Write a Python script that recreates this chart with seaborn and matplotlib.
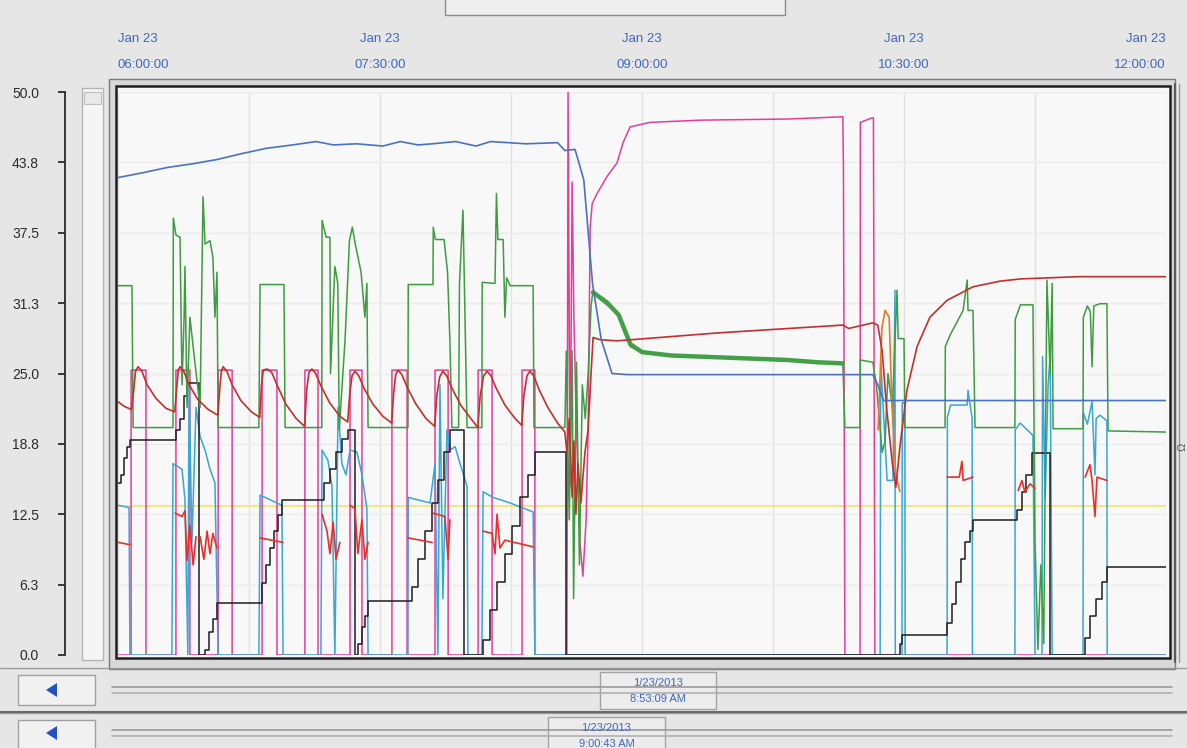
import numpy as np
import pandas as pd
import seaborn as sns
import matplotlib.pyplot as plt
from matplotlib.patches import Rectangle, Polygon

W, H = 1187, 748

# time axis: minutes after 06:00 on Jan 23
tick_times = [0, 90, 180, 270, 360]
tick_labels = ["Jan 23\n06:00:00", "Jan 23\n07:30:00", "Jan 23\n09:00:00",
               "Jan 23\n10:30:00", "Jan 23\n12:00:00"]
y_ticks = [0, 6.25, 12.5, 18.75, 25, 31.25, 37.5, 43.75, 50]
y_labels = ["0.0", "6.3", "12.5", "18.8", "25.0", "31.3", "37.5", "43.8", "50.0"]

blue_t = [0, 8, 17, 25, 34, 42, 51, 60, 68, 74, 82, 91, 97, 103, 108, 116, 123, 128, 140, 151,
          153.5, 157, 160, 163, 166, 169.7, 175, 220, 259.3, 261, 263, 360]
blue_v = [42.4, 42.8, 43.3, 43.6, 44.0, 44.5, 45.0, 45.3, 45.6, 45.3, 45.4, 45.2, 45.6, 45.3, 45.4,
          45.6, 45.2, 45.6, 45.4, 45.5, 44.8, 44.9, 42.2, 33.0, 28.0, 25.0, 24.9, 24.9, 24.9, 24.0,
          22.6, 22.6]

dark_red_t = [0, 2, 4.6, 5.4, 6.0, 6.9, 8.2, 10, 13, 16.5, 19.5,
              20.2, 20.7, 21.3, 22.6, 24.4, 27.4, 31, 34.3,
              35.0, 35.5, 36.1, 37.4, 39.2, 42.2, 45.8, 48.7,
              49.3, 49.9, 51.2, 52.8, 54.6, 57.6, 61.2, 64.1,
              64.8, 65.6, 66.6, 67.9, 69.7, 72.7, 76.2, 78.9,
              79.6, 80.4, 81.4, 82.7, 84.5, 87.5, 91, 94.0,
              94.7, 95.4, 96.2, 97.5, 99.3, 102.3, 105.8, 108.8,
              109.5, 110.5, 111.6, 112.9, 114.7, 117.7, 121.2, 123.6,
              124.4, 125.6, 126.8, 128.1, 129.9, 132.9, 136.4, 138.7,
              139.4, 140.5, 141.5, 142.8, 144.6, 147.6, 151.0, 153.5,
              154.2, 155.0, 156.0, 156.6, 157.3, 158.0, 159.0, 160.4, 161.5, 162.5, 163.2,
              165.6, 171.4, 205.8, 249.0, 251.0, 259.3, 261.0, 262.5, 264.0, 266.0, 267.2,
              268.6, 271.0, 274.5, 278.9, 284.8, 293.7, 303.0, 310.0, 330.0, 360.0]
dark_red_v = [22.5, 22.1, 21.8, 23.5, 25.2, 25.6, 25.2, 24.0, 22.8, 21.9, 21.6,
              23.8, 25.3, 25.6, 25.2, 24.0, 22.7, 21.8, 21.3,
              23.8, 25.2, 25.6, 25.2, 24.0, 22.6, 21.6, 21.1,
              24.0, 25.3, 25.4, 25.1, 24.0, 22.3, 21.0, 20.3,
              23.5, 25.1, 25.4, 25.0, 23.9, 22.4, 21.2, 20.7,
              23.2, 24.8, 25.2, 24.8, 23.7, 22.3, 21.2, 20.6,
              23.3, 24.9, 25.3, 24.9, 23.8, 22.3, 21.0, 20.3,
              23.0, 24.7, 25.2, 24.8, 23.7, 22.2, 21.0, 20.2,
              23.0, 24.8, 25.2, 24.8, 23.7, 22.2, 21.0, 20.4,
              23.0, 24.8, 25.2, 24.8, 23.6, 22.0, 20.6, 19.8,
              18.0, 21.0, 14.0, 19.0, 12.5, 17.0, 13.5, 18.0, 20.0, 25.0, 28.2,
              28.0, 27.9, 28.6, 29.3, 29.0, 29.5, 29.3, 27.0, 22.0, 17.0, 14.9,
              18.5, 23.5, 27.4, 30.0, 31.5, 32.7, 33.2, 33.4, 33.6, 33.6]

green_t = [0, 4.8, 5.2, 18.9, 19.0, 19.9, 21.3, 22.0, 22.7, 23.0, 23.7, 24.7, 26.4, 28.2, 29.2,
           29.9, 31.6, 32.6, 33.3, 34.0, 34.4, 48.4, 48.8, 57.0, 57.4, 70.0, 70.1, 71.5, 72.8,
           73.0, 74.5, 75.5, 76.0, 78.0, 79.5, 80.5, 81.5, 83.5, 84.8, 85.5, 85.9, 99.6, 99.7,
           108.2, 108.3, 109.0, 112.0, 113.2, 114.0, 114.7, 117.0, 117.3, 118.5, 119.2, 119.9,
           125.0, 125.1, 129.5, 130.0, 130.5, 132.3, 132.9, 133.5, 134.7, 142.6, 142.9, 153.5,
           154.0, 155.0, 156.0, 156.5, 157.5, 158.5, 159.5, 160.5, 161.5, 162.5, 163.2, 166.0,
           171.4, 175.9, 180.3, 205.8, 249.0, 249.7, 254.9, 255.0, 259.3, 260.5, 262.5, 263.5,
           264.5, 266.0, 267.6, 268.0, 270.0, 270.3, 284.1, 284.2, 286.0, 290.3, 291.7, 292.0,
           293.7, 294.4, 308.1, 308.2, 310.0, 314.3, 315.0, 316.0, 317.0, 318.0, 319.1, 320.2,
           320.9, 321.2, 331.5, 331.6, 333.0, 334.0, 334.6, 335.2, 337.3, 339.7, 340.1, 360.0]
green_v = [32.8, 32.8, 20.2, 20.2, 38.8, 37.3, 37.1, 24.0, 30.0, 34.5, 22.0, 30.0, 26.0, 22.0, 40.7,
           36.5, 36.8, 35.3, 30.0, 34.0, 20.2, 20.2, 32.9, 32.9, 20.2, 20.2, 38.6, 37.1, 37.1,
           25.0, 34.5, 33.0, 20.0, 28.0, 36.8, 38.0, 36.5, 34.0, 30.0, 33.0, 20.2, 20.2, 32.9,
           32.9, 38.0, 36.9, 36.9, 34.0, 28.0, 20.2, 20.2, 33.0, 39.5, 30.0, 20.2,
           20.2, 33.1, 33.0, 41.0, 36.9, 36.9, 30.0, 33.5, 32.8, 32.8, 20.2, 20.2,
           27.0, 12.0, 27.0, 5.0, 26.0, 8.0, 24.0, 21.0, 25.0, 31.0, 32.4, 31.5,
           30.4, 27.4, 26.8, 26.4, 25.9, 20.2, 20.2, 26.2, 26.0, 24.0, 18.0, 19.0,
           25.0, 22.0, 32.4, 28.1, 28.1, 20.2, 20.2, 27.4, 28.5, 30.6, 33.3, 30.6,
           30.6, 20.2, 20.2, 29.8, 31.1, 31.1, 10.0, 0.5, 8.0, 1.0, 33.3, 25.0,
           33.0, 20.1, 20.1, 30.0, 31.0, 30.5, 25.6, 31.0, 31.2, 31.2, 19.9, 19.8]

# noisy stretch after the 09:00 switch-over, shown as a thick band
green_band_t = [163.2, 168, 172, 176, 180, 190, 200, 210, 220, 230, 240, 249]
green_band_v = [32.2, 31.3, 30.2, 27.6, 26.9, 26.6, 26.5, 26.4, 26.3, 26.2, 26.0, 25.9]

pink_t = [0, 4.5, 4.5, 9.6, 9.6, 19.9, 19.9, 24.7, 24.7, 34.4, 34.4, 39.2, 39.2, 49.5, 49.5,
          54.6, 54.6, 64.2, 64.2, 68.7, 68.7, 79.7, 79.7, 83.8, 83.8, 94.1, 94.1, 99.3, 99.3,
          108.9, 108.9, 113.4, 113.4, 123.7, 123.7, 128.5, 128.5, 138.8, 138.8, 143.2, 143.2,
          154.2, 154.6, 155.3, 156.0, 156.6, 157.3, 158.7, 159.7, 160.8, 161.5, 162.2, 162.9,
          164.6, 168.0, 171.4, 173.5, 175.9, 182.7, 200.0, 230.0, 249.0, 249.2, 249.7, 254.9,
          255.0, 259.0, 259.5, 260.0, 360.0]
pink_v = [0, 0, 25.3, 25.3, 0, 0, 25.3, 25.3, 0, 0, 25.3, 25.3, 0, 0, 25.3,
          25.3, 0, 0, 25.3, 25.3, 0, 0, 25.3, 25.3, 0, 0, 25.3, 25.3, 0,
          0, 25.3, 25.3, 0, 0, 25.3, 25.3, 0, 0, 25.3, 25.3, 0,
          0, 50.0, 15.0, 42.0, 30.0, 22.0, 10.0, 7.0, 12.0, 20.0, 38.0, 40.1,
          41.0, 42.5, 43.7, 45.5, 46.9, 47.3, 47.5, 47.6, 47.8, 43.0, 0, 0,
          47.3, 47.7, 47.7, 0, 0]

cyan_t = [0, 3.8, 4.1, 18.5, 18.9, 22.0, 23.0, 24.0, 24.4, 25.4, 26.8, 28.2, 29.9, 31.6, 33.3,
          34.4, 48.4, 48.8, 56.3, 56.7, 69.7, 70.1, 72.1, 73.5, 74.5, 75.6, 76.9, 78.3, 79.7,
          82.1, 83.8, 85.5, 85.9, 99.6, 99.7, 107.2, 108.9, 109.9, 110.6, 111.6, 113.0, 114.0,
          115.8, 117.5, 119.9, 120.2, 125.0, 125.4, 128.8, 134.7, 142.6, 143.2, 261.8, 262.0,
          264.2, 266.2, 266.9, 267.0, 269.3, 269.4, 270.3, 270.4, 284.8, 284.9, 286.0, 291.7,
          292.0, 293.4, 293.5, 308.1, 308.2, 309.9, 314.3, 315.0, 317.4, 317.6, 318.5, 319.5,
          320.2, 320.9, 331.5, 331.6, 333.0, 334.6, 335.6, 336.0, 337.3, 339.7, 339.8, 360.0]
cyan_v = [13.3, 13.1, 0, 0, 17.0, 16.5, 13.8, 0, 24.0, 10.0, 22.0, 19.4, 18.2, 16.5, 15.3,
          0, 0, 14.2, 13.3, 0, 0, 18.2, 17.3, 15.0, 0, 22.0, 17.0, 16.0, 18.2,
          18.0, 16.0, 13.0, 0, 0, 14.0, 13.5, 17.0, 0, 24.0, 5.0, 20.0, 18.2,
          18.5, 17.0, 15.0, 0, 0, 14.5, 14.0, 13.5, 12.7, 0, 0, 26.2,
          15.5, 15.5, 32.4, 0, 0, 22.4, 22.4, 0, 0, 21.1, 22.2, 22.2,
          23.5, 21.0, 0, 0, 20.0, 20.6, 19.5, 0, 0, 26.5, 14.0, 24.0,
          26.5, 0, 0, 21.5, 20.5, 22.5, 16.0, 21.0, 21.3, 20.8, 0, 0]

black_t = [0, 1.0, 2.1, 3.1, 4.1, 18.9, 19.9, 21.3, 22.7, 23.7, 27.5, 27.8, 29.9, 31.3, 32.6,
           34.0, 48.1, 49.5, 50.8, 52.2, 53.6, 55.0, 56.3, 69.4, 70.8, 72.8, 74.9, 76.9, 79.0,
           81.1, 81.4, 82.4, 83.8, 84.8, 85.9, 99.6, 101.0, 103.1, 105.5, 107.9, 109.9, 112.0,
           114.0, 118.5, 118.9, 125.0, 125.4, 127.8, 130.2, 132.9, 135.3, 138.1, 140.8, 143.2,
           153.5, 153.9, 267.9, 268.6, 269.3, 284.1, 284.8, 286.5, 288.0, 289.5, 291.0, 292.5,
           293.7, 308.1, 308.8, 310.5, 312.0, 314.0, 319.5, 320.2, 331.5, 332.2, 334.0, 336.0,
           338.0, 339.7, 360.0]
black_v = [15.3, 16.0, 17.5, 18.5, 19.1, 19.1, 20.0, 21.0, 23.0, 24.2, 24.2, 0, 0.4, 2.0, 3.2,
           4.6, 4.6, 6.4, 8.0, 9.5, 11.0, 12.4, 13.8, 13.8, 15.3, 16.5, 18.0, 19.2, 20.0,
           20.0, 0, 1.0, 2.5, 3.5, 4.8, 4.8, 6.0, 8.5, 11.0, 13.5, 15.5, 18.0,
           20.0, 20.0, 0, 0, 1.3, 4.0, 6.5, 9.0, 11.5, 14.0, 16.0, 18.0,
           18.0, 0, 0, 1.0, 1.8, 1.8, 2.8, 4.5, 6.5, 8.5, 10.0, 11.0,
           12.0, 12.0, 12.9, 14.5, 16.0, 17.9, 17.9, 0, 0, 1.5, 3.5, 5.0,
           6.5, 7.8, 7.8]

# short bright-red segments (one id per segment)
red_seg = [1, 1,
           2, 2, 2, 2, 2, 2, 2,
           3, 3, 3, 3, 3, 3,
           4, 4,
           5, 5, 5, 5, 5, 5,
           6, 6, 6, 6, 6, 6,
           7, 7,
           8, 8, 8, 8,
           9, 9, 9, 9, 9, 9, 9,
           10, 10, 10, 10, 10,
           11, 11, 11, 11, 11,
           12, 12, 12, 12, 12, 12]
red_t = [0, 4.1,
         19.6, 22.0, 23.0, 23.7, 24.7, 25.8, 26.8,
         28.2, 29.5, 30.6, 31.6, 32.6, 34.0,
         48.8, 56.7,
         70.1, 71.8, 72.8, 73.9, 74.9, 76.2,
         79.7, 81.4, 82.4, 83.8, 84.8, 85.9,
         99.6, 107.9,
         108.2, 112.3, 113.4, 114.0,
         125.4, 128.5, 129.5, 130.2, 131.2, 132.9, 142.6,
         284.8, 289.0, 289.9, 290.3, 293.7,
         309.2, 310.5, 311.5, 313.3, 315.0,
         332.2, 333.9, 334.6, 335.6, 336.3, 339.7]
red_v = [10.0, 9.8,
         12.6, 12.3, 12.8, 8.4, 11.5, 8.0, 10.5,
         10.5, 8.5, 11.0, 9.0, 10.8, 9.5,
         10.4, 10.0,
         12.5, 11.0, 9.0, 11.8, 8.5, 10.0,
         13.3, 13.0, 9.0, 12.0, 8.5, 10.0,
         10.4, 10.0,
         12.6, 12.3, 8.5, 12.0,
         11.0, 10.8, 9.0, 12.5, 9.5, 10.2, 9.6,
         15.8, 15.8, 17.2, 15.5, 15.8,
         14.6, 15.5, 14.5, 15.2, 14.8,
         15.8, 16.9, 15.5, 12.3, 15.8, 15.5]

orange_t = [261.1, 262.4, 263.5, 264.9, 265.9, 267.2, 268.6]
orange_v = [20.0, 29.0, 30.6, 30.0, 22.0, 16.0, 14.5]

yellow_t = [0, 360]
yellow_v = [13.2, 13.2]

sns.set_style("white")
plt.rcParams['font.family'] = ['Liberation Sans', 'DejaVu Sans']

fig = plt.figure(figsize=(W / 100, H / 100), dpi=100, facecolor='#e6e6e6')
PT = 72 / 100  # points per pixel at 100 dpi


def px_rect(x, y, w, h, **kw):
    r = Rectangle((x / W, 1 - (y + h) / H), w / W, h / H, transform=fig.transFigure, **kw)
    fig.add_artist(r)
    return r


def px_line(x0, x1, y0, y1, **kw):
    fig.add_artist(plt.Line2D([x0 / W, x1 / W], [1 - y0 / H, 1 - y1 / H],
                              transform=fig.transFigure, **kw))


def px_text(x, y, s, **kw):
    fig.text(x / W, 1 - y / H, s, **kw)


# window chrome behind the chart
px_rect(445, -2, 340, 17, facecolor='#eeeeee', edgecolor='#8c8c8c', lw=1, zorder=-5)
px_rect(109, 79, 1066, 590, facecolor='#d8d8d8', edgecolor='#7a7a7a', lw=1, zorder=-5)
px_rect(116, 86, 1054, 572, facecolor='#f8f8f8', edgecolor='none', zorder=-4)
px_rect(82, 88, 21, 572, facecolor='#f5f5f5', edgecolor='#b4b4b4', lw=1, zorder=-5)
px_rect(84, 92, 17, 12, facecolor='#e9e9e9', edgecolor='#c0c0c0', lw=0.8, zorder=-4)
px_line(1175, 1175, 84, 662, color='#5a5a5a', lw=1.5)
px_line(1179, 1179, 84, 662, color='#9a9a9a', lw=1)

ax = fig.add_axes([118 / W, (H - 655) / H, (1166 - 118) / W, (655 - 92) / H])
ax.set_facecolor('none')

sns.lineplot(x=yellow_t, y=yellow_v, ax=ax, color='#f1e46a', lw=1.2, estimator=None, sort=False)
sns.lineplot(x=pink_t, y=pink_v, ax=ax, color='#e63c98', lw=1.1, estimator=None, sort=False)
sns.lineplot(x=cyan_t, y=cyan_v, ax=ax, color='#39a6d6', lw=1.1, estimator=None, sort=False)
sns.lineplot(x=black_t, y=black_v, ax=ax, color='#1e1e1e', lw=1.1, estimator=None, sort=False,
             drawstyle='steps-post')
sns.lineplot(x=green_t, y=green_v, ax=ax, color='#3e9c40', lw=1.1, estimator=None, sort=False)
sns.lineplot(x=green_band_t, y=green_band_v, ax=ax, color='#44a046', lw=3.2, estimator=None,
             sort=False)
red_df = pd.DataFrame({'seg': red_seg, 't': red_t, 'v': red_v})
sns.lineplot(data=red_df, x='t', y='v', units='seg', ax=ax, color='#ea2f2a', lw=1.2,
             estimator=None, sort=False)
sns.lineplot(x=orange_t, y=orange_v, ax=ax, color='#e57a25', lw=1.2, estimator=None, sort=False)
sns.lineplot(x=dark_red_t, y=dark_red_v, ax=ax, color='#c2302c', lw=1.2, estimator=None, sort=False)
sns.lineplot(x=blue_t, y=blue_v, ax=ax, color='#4a72c4', lw=1.2, estimator=None, sort=False)

ax.set_xlim(0, 360)
ax.set_ylim(0, 50)
ax.set_xlabel('')
ax.set_ylabel('')

# faint grid every 45 minutes
ax.set_xticks(tick_times)
ax.set_xticks([45, 135, 225, 315], minor=True)
ax.grid(which='both', axis='x', color='#e3e3e3', lw=1, zorder=0)
ax.set_yticks(y_ticks)
ax.grid(which='major', axis='y', color='#ececec', lw=1, zorder=0)
ax.set_axisbelow(True)

ax.xaxis.set_ticks_position('top')
ax.set_xticklabels(tick_labels, color='#3d68c2', fontsize=9.5, linespacing=2.5)
ax.tick_params(axis='x', which='both', length=0, pad=15 * PT * 1.4, top=True, bottom=False)
lbls = ax.get_xticklabels()
lbls[0].set_ha('left')
lbls[-1].set_ha('right')

ax.set_yticklabels(y_labels, fontsize=10, color='#2a2a2a')
ax.tick_params(axis='y', which='major', length=7 * PT, width=1.3, pad=19 * PT,
               colors='#2a2a2a', labelcolor='#2a2a2a', left=True)
for s in ['top', 'right', 'bottom']:
    ax.spines[s].set_visible(False)
ax.spines['left'].set_visible(True)
ax.spines['left'].set_position(('outward', 53 * PT))
ax.spines['left'].set_color('#2a2a2a')
ax.spines['left'].set_linewidth(1.3)

# inner frame of the trend panel
px_rect(116, 86, 1054, 572, facecolor='none', edgecolor='#1e1e1e', lw=1.8, zorder=5)
px_text(1183, 447, 'Ω', fontsize=8, color='#555555', rotation=90, ha='center', va='center')

# scroll bars with time stamps underneath
for y_top, y_tr, box_x, box_w, date_s, time_s in [
        (668, 690, 600, 116, '1/23/2013', '8:53:09 AM'),
        (713, 733, 548, 117, '1/23/2013', '9:00:43 AM')]:
    px_line(0, W, y_top, y_top, color='#9c9c9c', lw=1)
    px_rect(18, y_top + 7, 77, 30, facecolor='#f1f1f1', edgecolor='#a0a0a0', lw=1)
    tri = Polygon([[46 / W, 1 - y_tr / H], [57 / W, 1 - (y_tr - 7) / H],
                   [57 / W, 1 - (y_tr + 7) / H]], closed=True, transform=fig.transFigure,
                  facecolor='#2452c4', edgecolor='none')
    fig.add_artist(tri)
    px_line(112, 1172, y_tr - 3, y_tr - 3, color='#9a9a9a', lw=1.2)
    px_line(112, 1172, y_tr + 3, y_tr + 3, color='#b0b0b0', lw=1.2)
    px_rect(box_x, y_top + 4, box_w, 37, facecolor='#ececec', edgecolor='#a3a3a3', lw=1)
    px_text(box_x + box_w / 2, y_top + 15, date_s, fontsize=8, color='#3d68c2',
            ha='center', va='center')
    px_text(box_x + box_w / 2, y_top + 31, time_s, fontsize=8, color='#3d68c2',
            ha='center', va='center')
px_line(0, W, 712, 712, color='#6a6a6a', lw=1.5)

fig.savefig('out.png', dpi=100)
